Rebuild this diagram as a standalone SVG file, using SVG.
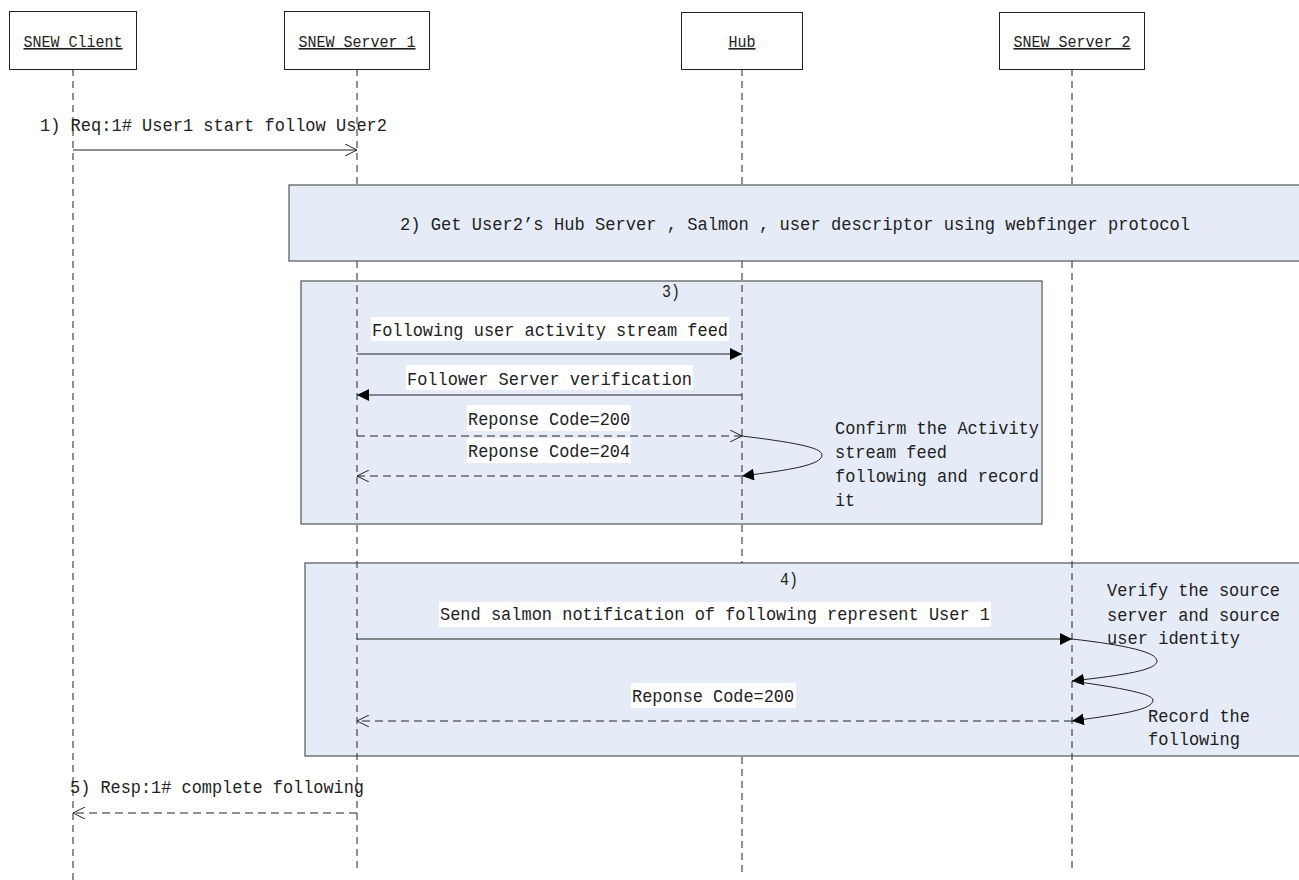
<svg xmlns="http://www.w3.org/2000/svg" width="1299" height="880" viewBox="0 0 1299 880">
<style>
text{font-family:"Liberation Mono","DejaVu Sans Mono",monospace;font-size:18px;fill:#222}
.hd{font-size:16px;text-decoration:underline;text-anchor:middle}
.box{fill:#fff;stroke:#222;stroke-width:1}
.frag{fill:#e5ecf7;stroke:#555;stroke-width:1.2}
.life{stroke:#222;stroke-width:1;stroke-dasharray:7 5;fill:none}
.msg{stroke:#222;stroke-width:1;fill:none}
.dash{stroke:#222;stroke-width:1;fill:none;stroke-dasharray:8 5}
.lbg{fill:#fff}
</style>
<defs>
<marker id="open" viewBox="0 0 12 12" refX="12" refY="6" markerWidth="12" markerHeight="12" markerUnits="userSpaceOnUse" orient="auto">
<path d="M0,0 L12,6 L0,12" fill="none" stroke="#222" stroke-width="1"/>
</marker>
<marker id="fill" viewBox="0 0 12 12" refX="12" refY="6" markerWidth="12" markerHeight="12" markerUnits="userSpaceOnUse" orient="auto">
<path d="M0,0 L12,6 L0,12 z" fill="#000"/>
</marker>
</defs>

<g id="frag3">
<rect class="frag" x="301" y="281" width="741" height="243"/>
<text x="662" y="297" textLength="18" lengthAdjust="spacingAndGlyphs">3)</text>
</g>
<g id="frag4">
<rect class="frag" x="305" y="563" width="999" height="193"/>
<text x="780" y="585" textLength="18" lengthAdjust="spacingAndGlyphs">4)</text>
</g>

<g id="lifelines">
<line class="life" x1="73" y1="69" x2="73" y2="880"/>
<line class="life" x1="357" y1="69" x2="357" y2="872"/>
<line class="life" x1="742" y1="69" x2="742" y2="563"/>
<line class="life" x1="742" y1="757" x2="742" y2="872"/>
<line class="life" x1="1072" y1="69" x2="1072" y2="872"/>
</g>

<g id="frag2">
<rect class="frag" x="289" y="185" width="1015" height="76"/>
<text x="400" y="230" textLength="790" lengthAdjust="spacingAndGlyphs">2) Get User2’s Hub Server , Salmon , user descriptor using webfinger protocol</text>
</g>

<g id="client"><rect class="box" x="9.5" y="11.5" width="127" height="58"/><text class="hd" x="73" y="47" textLength="99" lengthAdjust="spacingAndGlyphs">SNEW Client</text></g>
<g id="server1"><rect class="box" x="284.5" y="11.5" width="145" height="58"/><text class="hd" x="357" y="47" textLength="117" lengthAdjust="spacingAndGlyphs">SNEW Server 1</text></g>
<g id="hub"><rect class="box" x="681.5" y="12.5" width="121" height="57"/><text class="hd" x="742" y="47" textLength="27" lengthAdjust="spacingAndGlyphs">Hub</text></g>
<g id="server2"><rect class="box" x="999.5" y="12.5" width="145" height="57"/><text class="hd" x="1072" y="47" textLength="117" lengthAdjust="spacingAndGlyphs">SNEW Server 2</text></g>

<g id="connectors">
<text x="40" y="131" textLength="347" lengthAdjust="spacingAndGlyphs">1) Req:1# User1 start follow User2</text>
<line class="msg" x1="73" y1="150" x2="357" y2="150" marker-end="url(#open)"/>

<rect class="lbg" x="371" y="317" width="358" height="24"/>
<text x="372" y="336" textLength="356" lengthAdjust="spacingAndGlyphs">Following user activity stream feed</text>
<line class="msg" x1="357" y1="354" x2="742" y2="354" marker-end="url(#fill)"/>

<rect class="lbg" x="406" y="365" width="287" height="25"/>
<text x="407" y="385" textLength="285" lengthAdjust="spacingAndGlyphs">Follower Server verification</text>
<line class="msg" x1="742" y1="395" x2="357" y2="395" marker-end="url(#fill)"/>

<rect class="lbg" x="467" y="405" width="164" height="26"/>
<text x="468" y="425" textLength="162" lengthAdjust="spacingAndGlyphs">Reponse Code=200</text>
<line class="dash" x1="357" y1="436" x2="742" y2="436" marker-end="url(#open)"/>

<rect class="lbg" x="467" y="438" width="164" height="25"/>
<text x="468" y="457" textLength="162" lengthAdjust="spacingAndGlyphs">Reponse Code=204</text>
<line class="dash" x1="742" y1="476" x2="357" y2="476" marker-end="url(#open)"/>

<path class="msg" d="M742,436 C790,442 822,447 822,455 C822,465 790,470 742,476" marker-end="url(#fill)"/>
<text x="835" y="434" textLength="204" lengthAdjust="spacingAndGlyphs">Confirm the Activity</text>
<text x="835" y="458" textLength="112" lengthAdjust="spacingAndGlyphs">stream feed</text>
<text x="835" y="482" textLength="204" lengthAdjust="spacingAndGlyphs">following and record</text>
<text x="835" y="506" textLength="20" lengthAdjust="spacingAndGlyphs">it</text>

<rect class="lbg" x="439" y="602" width="552" height="25"/>
<text x="440" y="620" textLength="550" lengthAdjust="spacingAndGlyphs">Send salmon notification of following represent User 1</text>
<line class="msg" x1="357" y1="639" x2="1072" y2="639" marker-end="url(#fill)"/>

<path class="msg" d="M1072,639 C1125,645 1157,652 1157,661 C1157,670 1125,675 1072,681" marker-end="url(#fill)"/>
<path class="msg" d="M1072,681 C1122,688 1153,694 1153,700 C1153,710 1122,714 1072,721" marker-end="url(#fill)"/>

<rect class="lbg" x="631" y="683" width="165" height="25"/>
<text x="632" y="702" textLength="162" lengthAdjust="spacingAndGlyphs">Reponse Code=200</text>
<line class="dash" x1="1072" y1="721" x2="357" y2="721" marker-end="url(#open)"/>

<text x="1107" y="596" textLength="173" lengthAdjust="spacingAndGlyphs">Verify the source</text>
<text x="1107" y="621" textLength="173" lengthAdjust="spacingAndGlyphs">server and source</text>
<text x="1107" y="644" textLength="133" lengthAdjust="spacingAndGlyphs">user identity</text>
<text x="1148" y="722" textLength="102" lengthAdjust="spacingAndGlyphs">Record the</text>
<text x="1148" y="745" textLength="92" lengthAdjust="spacingAndGlyphs">following</text>

<text x="70" y="793" textLength="294" lengthAdjust="spacingAndGlyphs">5) Resp:1# complete following</text>
<line class="dash" x1="357" y1="813" x2="73" y2="813" marker-end="url(#open)"/>
</g>
</svg>
